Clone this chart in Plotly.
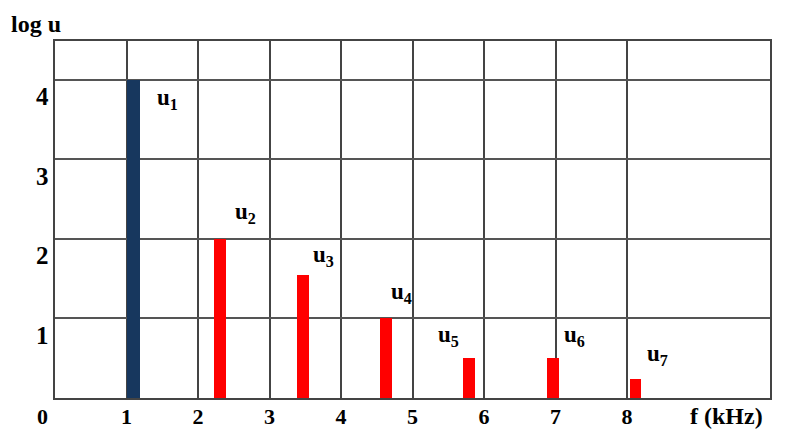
import plotly.graph_objects as go

# ---- data ----
harmonics = ["u1", "u2", "u3", "u4", "u5", "u6", "u7"]
freq_khz = [1.1, 2.31, 3.47, 4.63, 5.79, 6.96, 8.12]
log_u = [4.0, 2.0, 1.55, 1.0, 0.5, 0.5, 0.24]
x_ticks = [1, 2, 3, 4, 5, 6, 7, 8]
x_tick_labels = ["1", "2", "3", "4", "5", "6", "7", "8"]
y_ticks = [1, 2, 3, 4]
y_tick_labels = ["1", "2", "3", "4"]

# ---- styling ----
bar_colors = ["#17375e"] + ["#ff0000"] * 6
bar_widths = [0.19] + [0.165] * 6
label_x = [1.58, 2.66, 3.76, 4.84, 5.5, 7.26, 8.42]
label_y = [3.76, 2.33, 1.79, 1.32, 0.78, 0.78, 0.54]

# page body has an 8px margin, so the figure is offset by 8px
OFF = 8
W, H = 800 - OFF, 434 - OFF
ML, MR, MT, MB = 55 - OFF, 30, 41 - OFF, 36
FONT = "Liberation Serif"

def px_x(p):
    return (p - OFF - ML) / (W - ML - MR)

def px_y(p):
    return (H - MB - (p - OFF)) / (H - MB - MT)

def b(t):
    return "<b>" + t + "</b>"

fig = go.Figure()
fig.add_trace(go.Bar(
    x=freq_khz, y=log_u, width=bar_widths,
    marker=dict(color=bar_colors, line=dict(width=0)),
    hoverinfo="skip", showlegend=False,
))

ann = []
for name, lx, ly in zip(harmonics, label_x, label_y):
    ann.append(dict(x=lx, y=ly, xref="x", yref="y",
                    xanchor="center", yanchor="middle",
                    text=b("u<sub>" + name[1:] + "</sub>"), showarrow=False,
                    font=dict(family=FONT, size=23, color="black")))
for v, t in zip(y_ticks, y_tick_labels):
    ann.append(dict(x=px_x(51), y=v, xref="paper", yref="y", yshift=-17,
                    xanchor="right", yanchor="middle", text=b(t), showarrow=False,
                    font=dict(family=FONT, size=25, color="black")))
ann.append(dict(x=px_x(42), y=px_y(416), xref="paper", yref="paper",
                xanchor="center", yanchor="middle",
                text=b("0"), showarrow=False,
                font=dict(family=FONT, size=22, color="black")))
ann.append(dict(x=px_x(726), y=px_y(416), xref="paper", yref="paper",
                xanchor="center", yanchor="middle",
                text=b("f (kHz)"), showarrow=False,
                font=dict(family=FONT, size=24, color="black")))
ann.append(dict(x=px_x(9), y=px_y(9), xref="paper", yref="paper",
                xanchor="left", yanchor="top",
                text=b("log u"), showarrow=False,
                font=dict(family=FONT, size=24, color="black")))

fig.update_layout(
    width=W, height=H,
    margin=dict(l=ML, r=MR, t=MT, b=MB, autoexpand=False),
    paper_bgcolor="white", plot_bgcolor="white",
    bargap=0,
    annotations=ann,
    xaxis=dict(range=[0, 10], tickvals=x_ticks, ticktext=[b(t) for t in x_tick_labels],
               showgrid=True, gridcolor="#444", gridwidth=1.5,
               showline=True, linecolor="#444", linewidth=1.5, mirror=True,
               zeroline=False, ticks="", ticklabelstandoff=-2, automargin=False,
               tickfont=dict(family=FONT, size=22, color="black")),
    yaxis=dict(range=[0, 4.49], tickvals=y_ticks, ticktext=y_tick_labels,
               showticklabels=False, automargin=False,
               showgrid=True, gridcolor="#555", gridwidth=1.5,
               showline=True, linecolor="#444", linewidth=1.5, mirror=True,
               zeroline=False, ticks=""),
)

fig.write_html("out.html")
